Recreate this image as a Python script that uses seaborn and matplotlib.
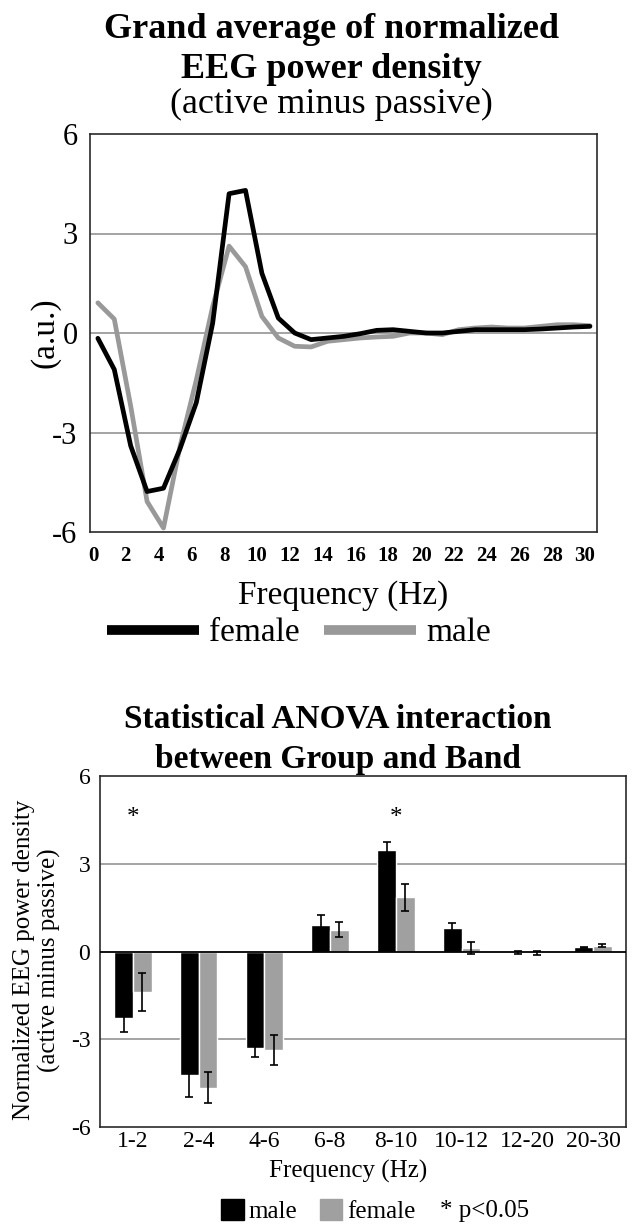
import matplotlib
matplotlib.use("Agg")
import matplotlib.pyplot as plt
from matplotlib.lines import Line2D
from matplotlib.patches import Patch
import seaborn as sns
import pandas as pd

# ---------------------------------------
# DATA
# ---------------------------------------

# grand average spectra (active minus passive), a.u.
freq_hz = [0.3, 1.3, 2.3, 3.3, 4.3, 5.3, 6.3, 7.3, 8.3, 9.3, 10.3,
           11.3, 12.3, 13.3, 14.3, 15.3, 16.3, 17.3, 18.3, 19.3, 20.3,
           21.3, 22.3, 23.3, 24.3, 25.3, 26.3, 27.3, 28.3, 29.3, 30.3]
female_curve = [-0.16, -1.1, -3.4, -4.78, -4.68, -3.5, -2.1, 0.3, 4.2, 4.3, 1.8,
                0.45, 0.0, -0.2, -0.15, -0.1, -0.02, 0.08, 0.1, 0.05, 0.0,
                0.0, 0.05, 0.1, 0.1, 0.1, 0.1, 0.12, 0.15, 0.18, 0.2]
male_curve = [0.91, 0.42, -2.2, -5.08, -5.88, -3.43, -1.42, 0.8, 2.62, 2.0, 0.5,
              -0.15, -0.4, -0.42, -0.25, -0.2, -0.15, -0.12, -0.1, 0.0, 0.0,
              -0.05, 0.1, 0.15, 0.18, 0.15, 0.15, 0.2, 0.25, 0.25, 0.22]

# band means +- SEM
bands = ["1-2", "2-4", "4-6", "6-8", "8-10", "10-12", "12-20", "20-30"]
male_mean = [-2.28, -4.22, -3.29, 0.91, 3.46, 0.79, -0.03, 0.14]
male_sem = [0.46, 0.74, 0.30, 0.35, 0.27, 0.18, 0.05, 0.03]
female_mean = [-1.40, -4.65, -3.37, 0.74, 1.85, 0.11, -0.05, 0.20]
female_sem = [0.65, 0.54, 0.50, 0.26, 0.46, 0.20, 0.08, 0.06]
sig_bands = ["1-2", "8-10"]

yticks = [-6, -3, 0, 3, 6]
xticks_hz = [0, 2, 4, 6, 8, 10, 12, 14, 16, 18, 20, 22, 24, 26, 28, 30]

BLACK = "#000000"
GRAY = "#a0a0a0"
LINE_GRAY = "#999999"
FRAME = "#2a2a2a"

# ---------------------------------------
# STYLE
# ---------------------------------------

sns.set_theme(style="white")
plt.rcParams["font.family"] = ["Liberation Serif", "DejaVu Serif"]
plt.rcParams["text.color"] = "black"
plt.rcParams["xtick.color"] = "black"
plt.rcParams["ytick.color"] = "black"
plt.rcParams["axes.labelcolor"] = "black"

W, H = 635, 1224
fig = plt.figure(figsize=(W / 100, H / 100), dpi=100)


def px(x0, y0, x1, y1):
    return [x0 / W, 1 - y1 / H, (x1 - x0) / W, (y1 - y0) / H]


# =======================================
# TOP: grand average line chart
# =======================================

ax1 = fig.add_axes(px(90, 134, 597, 532))

df_line = pd.DataFrame({
    "freq": freq_hz * 2,
    "value": female_curve + male_curve,
    "group": ["female"] * len(freq_hz) + ["male"] * len(freq_hz),
})

for y in [-3, 0, 3]:
    ax1.axhline(y, color="#8a8a8a", lw=1.1, zorder=1)

sns.lineplot(data=df_line, x="freq", y="value", hue="group",
             palette={"female": BLACK, "male": LINE_GRAY},
             hue_order=["male", "female"],
             linewidth=3.4, legend=False, ax=ax1, zorder=3)

ax1.set_xlim(-0.18, 30.73)
ax1.set_ylim(-6, 6)
ax1.set_xticks(xticks_hz)
ax1.set_xticklabels([str(t) for t in xticks_hz], fontsize=15, fontweight="bold")
ax1.set_yticks(yticks)
ax1.set_yticklabels([str(t) for t in yticks], fontsize=22)
ax1.tick_params(axis="x", length=0, pad=10)
ax1.tick_params(axis="y", length=0, pad=9)
ax1.set_xlabel("")
ax1.set_ylabel("")
for s in ax1.spines.values():
    s.set_color(FRAME)
    s.set_linewidth(1.2)

fig.text(343 / W, 1 - 604 / H, "Frequency (Hz)", ha="center", va="baseline", fontsize=24)
fig.text(45 / W, 1 - 333 / H, "(a.u.)", ha="center", va="center", rotation=90, fontsize=24)

top_handles = [Line2D([0], [0], color=BLACK, lw=7, solid_capstyle="butt"),
               Line2D([0], [0], color=LINE_GRAY, lw=7, solid_capstyle="butt")]
ax1.legend(top_handles, ["female", "male"], loc="center",
           bbox_to_anchor=(299 / W, 1 - 633 / H), bbox_transform=fig.transFigure,
           ncol=2, frameon=False, fontsize=24, handlelength=2.75,
           handletextpad=0.3, columnspacing=0.75, borderpad=0)

fig.text(331 / W, 1 - 38 / H, "Grand average of normalized", ha="center",
         va="baseline", fontsize=26, fontweight="bold")
fig.text(331 / W, 1 - 78 / H, "EEG power density", ha="center",
         va="baseline", fontsize=26, fontweight="bold")
fig.text(331 / W, 1 - 113 / H, "(active minus passive)", ha="center",
         va="baseline", fontsize=26)

# =======================================
# BOTTOM: band bar chart with SEM
# =======================================

ax2 = fig.add_axes(px(100, 776, 626, 1127))

df_bar = pd.DataFrame({
    "band": bands * 2,
    "mean": male_mean + female_mean,
    "group": ["male"] * len(bands) + ["female"] * len(bands),
})

for y in [-3, 3]:
    ax2.axhline(y, color="#8a8a8a", lw=1.1, zorder=0)

sns.barplot(data=df_bar, x="band", y="mean", hue="group", order=bands,
            hue_order=["male", "female"],
            palette={"male": BLACK, "female": GRAY},
            width=0.57, errorbar=None, legend=False, ax=ax2, zorder=2,
            saturation=1)

ax2.axhline(0, color=BLACK, lw=1.3, zorder=3)

for cont, means, sems in zip(ax2.containers, [male_mean, female_mean],
                             [male_sem, female_sem]):
    xs = [b.get_x() + b.get_width() / 2 for b in cont]
    ax2.errorbar(xs, means, yerr=sems, fmt="none", ecolor=BLACK,
                 elinewidth=1.2, capsize=3.2, capthick=1.2, zorder=4)

for b in sig_bands:
    ax2.text(bands.index(b), 4.35, "*", ha="center", va="baseline", fontsize=18)

ax2.set_xlim(-0.5, len(bands) - 0.5)
ax2.set_ylim(-6, 6)
ax2.set_yticks(yticks)
ax2.set_yticklabels([str(t) for t in yticks], fontsize=17)
ax2.set_xticks(range(len(bands)))
ax2.set_xticklabels(bands, fontsize=17)
ax2.tick_params(axis="x", length=0, pad=3)
ax2.tick_params(axis="y", length=0, pad=7)
ax2.set_xlabel("")
ax2.set_ylabel("")
for s in ax2.spines.values():
    s.set_color(FRAME)
    s.set_linewidth(1.2)

fig.text(37 / W, 1 - 960 / H, "Normalized EEG power density\n(active minus passive)",
         ha="center", va="center", rotation=90, fontsize=18, linespacing=1.15)
fig.text(348 / W, 1 - 1178 / H, "Frequency (Hz)", ha="center", va="baseline", fontsize=18)

fig.text(338 / W, 1 - 727 / H, "Statistical ANOVA interaction", ha="center",
         va="baseline", fontsize=24, fontweight="bold")
fig.text(338 / W, 1 - 768 / H, "between Group and Band", ha="center",
         va="baseline", fontsize=24, fontweight="bold")

bot_handles = [Patch(facecolor=BLACK, edgecolor=BLACK),
               Patch(facecolor=GRAY, edgecolor=GRAY)]
ax2.legend(bot_handles, ["male", "female"], loc="center left",
           bbox_to_anchor=(221 / W, 1 - 1211 / H), bbox_transform=fig.transFigure,
           ncol=2, frameon=False, fontsize=18, handlelength=0.9, handleheight=0.9,
           handletextpad=0.2, columnspacing=0.9, borderpad=0, borderaxespad=0)
fig.text(440 / W, 1 - 1211 / H, "* p<0.05", ha="left", va="center", fontsize=18)

fig.savefig("out.png", dpi=100)
